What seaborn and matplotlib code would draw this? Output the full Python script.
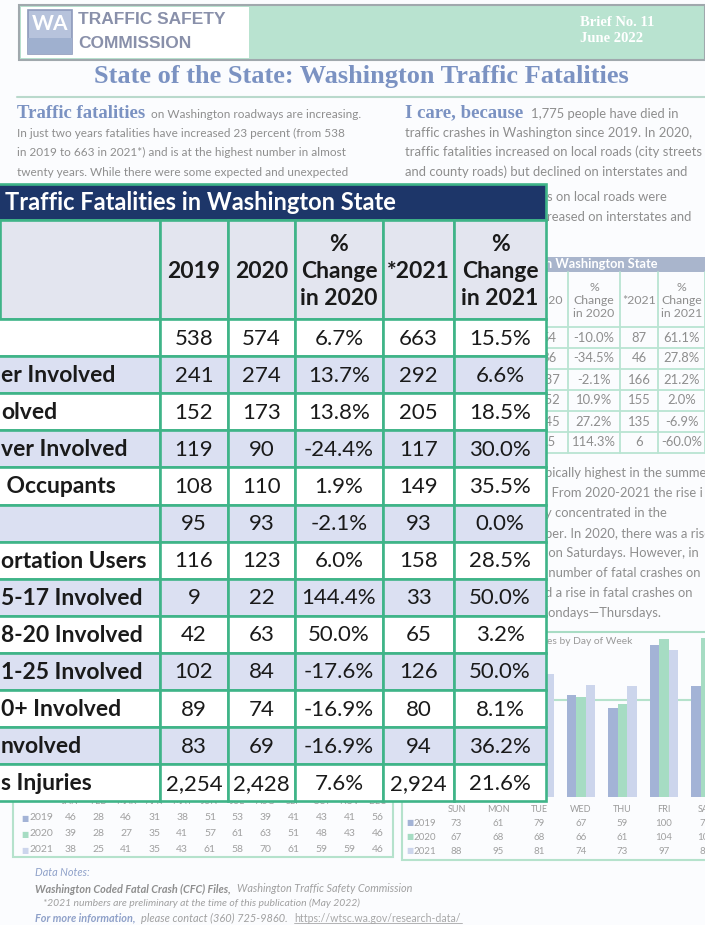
import numpy as np
import pandas as pd
import matplotlib.pyplot as plt
from matplotlib.patches import Rectangle
from matplotlib.transforms import blended_transform_factory
import seaborn as sns

# Main table: Traffic Fatalities in Washington State
row_labels = ['', 'er Involved', 'olved', 'ver Involved', ' Occupants', '',
              'ortation Users', '5-17 Involved', '8-20 Involved', '1-25 Involved',
              '0+ Involved', 'nvolved', 's Injuries']
fat_2019 = [538, 241, 152, 119, 108, 95, 116, 9, 42, 102, 89, 83, 2254]
fat_2020 = [574, 274, 173, 90, 110, 93, 123, 22, 63, 84, 74, 69, 2428]
chg_2020 = [6.7, 13.7, 13.8, -24.4, 1.9, -2.1, 6.0, 144.4, 50.0, -17.6, -16.9, -16.9, 7.6]
fat_2021 = [663, 292, 205, 117, 149, 93, 158, 33, 65, 126, 80, 94, 2924]
chg_2021 = [15.5, 6.6, 18.5, 30.0, 35.5, 0.0, 28.5, 50.0, 3.2, 50.0, 8.1, 36.2, 21.6]
col_headers = ['', '2019', '2020', '%\nChange\nin 2020', '*2021', '%\nChange\nin 2021']

# Small road table (right, mostly hidden)
road_2020 = [54, 36, 137, 152, 145, 15]
road_chg_2020 = [-10.0, -34.5, -2.1, 10.9, 27.2, 114.3]
road_2021 = [87, 46, 166, 155, 135, 6]
road_chg_2021 = [61.1, 27.8, 21.2, 2.0, -6.9, -60.0]

# Fatal crashes by day of week
days = ['SUN', 'MON', 'TUE', 'WED', 'THU', 'FRI', 'SAT']
dow_2019 = [73, 61, 79, 67, 59, 100, 73]
dow_2020 = [67, 68, 68, 66, 61, 104, 105]
dow_2021 = [88, 95, 81, 74, 73, 97, 85]

# Fatal crashes by month
months = ['JAN', 'FEB', 'MAR', 'APR', 'MAY', 'JUN', 'JUL', 'AUG', 'SEP', 'OCT', 'NOV', 'DEC']
mon_2019 = [46, 28, 46, 31, 38, 51, 53, 39, 41, 43, 41, 56]
mon_2020 = [39, 28, 27, 35, 41, 57, 61, 63, 51, 48, 43, 46]
mon_2021 = [38, 25, 41, 35, 43, 61, 58, 70, 61, 59, 59, 46]

years = ['2019', '2020', '2021']
year_colors = ['#a3b3d6', '#a6dcc3', '#ccd5ec']

sns.set_theme(style='white')
plt.rcParams['font.family'] = ['Lato', 'DejaVu Sans']

GREEN = '#3fb488'
NAVY = '#1d3669'
LAV = '#dbe0f2'
HEAD = '#e3e5ef'
GRAY = '#8e8e8e'
SLATE = '#7b92c2'

fig = plt.figure(figsize=(7.05, 9.25), dpi=100)
fig.patch.set_facecolor('#fbfcfe')

# background page, pixel coordinates
bg = fig.add_axes([0, 0, 1, 1], zorder=0)
bg.set_xlim(0, 705)
bg.set_ylim(925, 0)
bg.axis('off')

# header banner
bg.add_patch(Rectangle((19, 5), 686, 55, fc='#b9e3d0', ec='#a0a8ad', lw=1.5))
bg.add_patch(Rectangle((21, 7), 228, 51, fc='white', ec='none'))
bg.add_patch(Rectangle((28, 10), 44, 44, fc='#b7c3dc', ec='#8d9abb', lw=1.2))
bg.add_patch(Rectangle((28, 38), 44, 16, fc='#9fb0cf', ec='none'))
bg.text(50, 24, 'WA', color='white', fontsize=15, fontweight='bold', ha='center', va='center')
bg.text(78, 20, 'TRAFFIC SAFETY', family='Liberation Sans', fontweight='bold',
        fontsize=12.5, color='#8990aa', va='center')
bg.text(78, 43, 'COMMISSION', family='Liberation Sans', fontweight='bold',
        fontsize=12.5, color='#8990aa', va='center')
bg.text(580, 22, 'Brief No. 11', family='Liberation Serif', fontweight='bold',
        fontsize=10.5, color='white', va='center')
bg.text(580, 38, 'June 2022', family='Liberation Serif', fontweight='bold',
        fontsize=10.5, color='white', va='center')
bg.text(361, 77, 'State of the State: Washington Traffic Fatalities',
        family='Liberation Serif', fontweight='bold', fontsize=19, color=SLATE,
        ha='center', va='center')
bg.plot([17, 705], [97, 97], color='#b9d9cc', lw=1.5)

# intro paragraphs
para_l = dict(fontsize=8.5, color=GRAY, va='center')
para_r = dict(fontsize=9.4, color=GRAY, va='center')
bg.text(17, 113, 'Traffic fatalities', family='Liberation Serif', fontweight='bold',
        fontsize=13.5, color=SLATE, va='center')
bg.text(151, 114, 'on Washington roadways are increasing.', **para_l)
bg.text(17, 133, 'In just two years fatalities have increased 23 percent (from 538', **para_l)
bg.text(17, 152, 'in 2019 to 663 in 2021*) and is at the highest number in almost', **para_l)
bg.text(17, 172, 'twenty years. While there were some expected and unexpected', **para_l)
bg.text(405, 113, 'I care, because', family='Liberation Serif', fontweight='bold',
        fontsize=13.5, color=SLATE, va='center')
bg.text(531, 114, '1,775 people have died in', **para_r)
bg.text(405, 133, 'traffic crashes in Washington since 2019. In 2020,', **para_r)
bg.text(405, 152, 'traffic fatalities increased on local roads (city streets', **para_r)
bg.text(405, 172, 'and county roads) but declined on interstates and', **para_r)
bg.text(547, 197, 's on local roads were', **para_r)
bg.text(547, 217, 'reased on interstates and', **para_r)

# small road table
bg.add_patch(Rectangle((520, 257), 185, 15, fc='#a9b5cc', ec='none'))
bg.text(545, 264.5, 'n Washington State', fontsize=9.2, fontweight='bold', color='white', va='center')
road_edges = [530, 568, 620, 658, 705]
road_top, road_head, road_h = 272, 55, 21
for x in road_edges:
    bg.plot([x, x], [road_top, road_top + road_head + road_h * len(road_2021)],
            color='#b9e4d2', lw=1.3)
for k in range(len(road_2021) + 1):
    yy = road_top + road_head + road_h * k
    bg.plot([road_edges[0], 705], [yy, yy], color='#b9e4d2', lw=1.3)
for j, h in enumerate(['2020', '%\nChange\nin 2020', '*2021', '%\nChange\nin 2021']):
    bg.text((road_edges[j] + road_edges[j + 1]) / 2, road_top + road_head / 2 + 1, h,
            fontsize=8.8, color=GRAY, ha='center', va='center', linespacing=1.2)
for i in range(len(road_2021)):
    yy = road_top + road_head + road_h * (i + 0.5)
    cells = [f'{road_2020[i]}', f'{road_chg_2020[i]:.1f}%', f'{road_2021[i]}', f'{road_chg_2021[i]:.1f}%']
    for j, s in enumerate(cells):
        bg.text((road_edges[j] + road_edges[j + 1]) / 2, yy, s, fontsize=9.4,
                color=GRAY, ha='center', va='center')

# right column text below small table
lines = ['pically highest in the summer', '. From 2020-2021 the rise i',
         'y concentrated in the', 'ber. In 2020, there was a rise',
         ' on Saturdays. However, in', ' number of fatal crashes on',
         'd a rise in fatal crashes on', 'londays\u2014Thursdays.']
for k, s in enumerate(lines):
    bg.text(545, 473 + 20 * k, s, **para_r)
bg.plot([546, 705], [632, 632], color='#a8dcc4', lw=1.5)
bg.text(547, 641, 'es by Day of Week', fontsize=7.4, color='#9a9a9a', va='center')

# day of week bar chart
ax_bar = fig.add_axes([435.75 / 705, (925 - 797) / 925, 290.5 / 705, 182 / 925], zorder=1)
dow = pd.DataFrame({'day': days * 3,
                    'year': [y for y in years for _ in days],
                    'n': dow_2019 + dow_2020 + dow_2021})
sns.barplot(data=dow, x='day', y='n', hue='year', palette=year_colors, width=0.68,
            saturation=1, ax=ax_bar, legend=False, linewidth=0)
ax_bar.set_ylim(0, 120)
ax_bar.set_facecolor('none')
sns.despine(ax=ax_bar, left=True, bottom=True)
ax_bar.set_yticks([])
ax_bar.set_xlabel('')
ax_bar.set_ylabel('')
ax_bar.tick_params(axis='x', length=0, pad=6, labelsize=6.5, labelcolor='#9a9a9a')

# day of week value table
tr = blended_transform_factory(ax_bar.transData, bg.transData)
bg.add_patch(Rectangle((402, 700), 320, 160, fc='none', ec='#b5e2cc', lw=1.5))
for r, (vals, yy) in enumerate(zip([dow_2019, dow_2020, dow_2021], [823, 837, 851])):
    bg.text(406, yy, '\u25a0', color=year_colors[r], fontsize=5.5, va='center')
    bg.text(413, yy, years[r], color='#a0a0a0', fontsize=7, va='center')
    for i, v in enumerate(vals):
        bg.text(i, yy, str(v), transform=tr, color='#a0a0a0', fontsize=7,
                ha='center', va='center')

# monthly value table
bg.add_patch(Rectangle((13, 700), 380, 157, fc='none', ec='#b5e2cc', lw=1.5))
mon_x = 70.5 + 27.9 * np.arange(len(months))
for i, m in enumerate(months):
    bg.text(mon_x[i], 802, m, color='#a0a0a0', fontsize=6.5, ha='center', va='center')
for r, (vals, yy) in enumerate(zip([mon_2019, mon_2020, mon_2021], [818, 834, 850])):
    bg.text(21, yy, '\u25a0', color=year_colors[r], fontsize=5.5, va='center')
    bg.text(29, yy, years[r], color='#a0a0a0', fontsize=7.5, va='center')
    for i, v in enumerate(vals):
        bg.text(mon_x[i], yy, str(v), color='#a0a0a0', fontsize=7.5, ha='center', va='center')

# footer notes
bg.text(35, 873, 'Data Notes:', fontsize=7.8, style='italic', color='#8fa1c9', va='center')
bg.text(35, 889, 'Washington Coded Fatal Crash (CFC) Files,', fontsize=7.8, style='italic',
        fontweight='bold', color=GRAY, va='center')
bg.text(237, 889, 'Washington Traffic Safety Commission', fontsize=7.8, style='italic',
        color='#a0a0a0', va='center')
bg.text(43, 903, '*2021 numbers are preliminary at the time of this publication (May 2022)',
        fontsize=7.5, style='italic', color='#a0a0a0', va='center')
bg.text(35, 918, 'For more information,', fontsize=7.8, style='italic', fontweight='bold',
        color='#8fa1c9', va='center')
bg.text(141, 918, 'please contact (360) 725-9860.', fontsize=7.9, style='italic',
        color='#a0a0a0', va='center')
bg.text(294, 918, 'https://wtsc.wa.gov/research-data/', fontsize=7.6, color='#a8a8a8',
        va='center')
bg.plot([294, 462], [923, 923], color='#a8a8a8', lw=0.6)

# main table overlay
tb = fig.add_axes([0, 0, 1, 1], zorder=3)
tb.set_xlim(0, 705)
tb.set_ylim(925, 0)
tb.axis('off')

col_edges = [0, 160, 228, 295, 383, 454, 546]
title_top, head_top, body_top, row_h = 184, 220, 319, 37.1
lw = 1.9

tb.add_patch(Rectangle((-3, title_top), col_edges[-1] + 3, head_top - title_top,
                       fc=NAVY, ec=GREEN, lw=lw))
tb.text(5, (title_top + head_top) / 2 + 1, 'Traffic Fatalities in Washington State',
        color='white', fontsize=17, fontweight='bold', va='center')

for j, h in enumerate(col_headers):
    x0, x1 = col_edges[j], col_edges[j + 1]
    tb.add_patch(Rectangle((x0, head_top), x1 - x0, body_top - head_top, fc=HEAD, ec=GREEN, lw=lw))
    tb.text((x0 + x1) / 2, (head_top + body_top) / 2 + 2, h, fontsize=16.5, fontweight='bold',
            color='#1a1a1a', ha='center', va='center', linespacing=1.33)

for i, lab in enumerate(row_labels):
    y0 = body_top + row_h * i
    fc = LAV if i % 2 == 1 else 'white'
    cells = [lab, f'{fat_2019[i]:,}', f'{fat_2020[i]:,}', f'{chg_2020[i]:.1f}%',
             f'{fat_2021[i]:,}', f'{chg_2021[i]:.1f}%']
    for j, s in enumerate(cells):
        x0, x1 = col_edges[j], col_edges[j + 1]
        tb.add_patch(Rectangle((x0 - (3 if j == 0 else 0), y0), x1 - x0 + (3 if j == 0 else 0),
                               row_h, fc=fc, ec=GREEN, lw=lw))
        if j == 0:
            tb.text(1, y0 + row_h / 2 + 1, s, fontsize=16.5, fontweight='bold',
                    color='#1a1a1a', ha='left', va='center')
        else:
            tb.text((x0 + x1) / 2, y0 + row_h / 2 + 1, s, fontsize=16,
                    color='#1a1a1a', ha='center', va='center')

fig.savefig('out.png', dpi=100)
